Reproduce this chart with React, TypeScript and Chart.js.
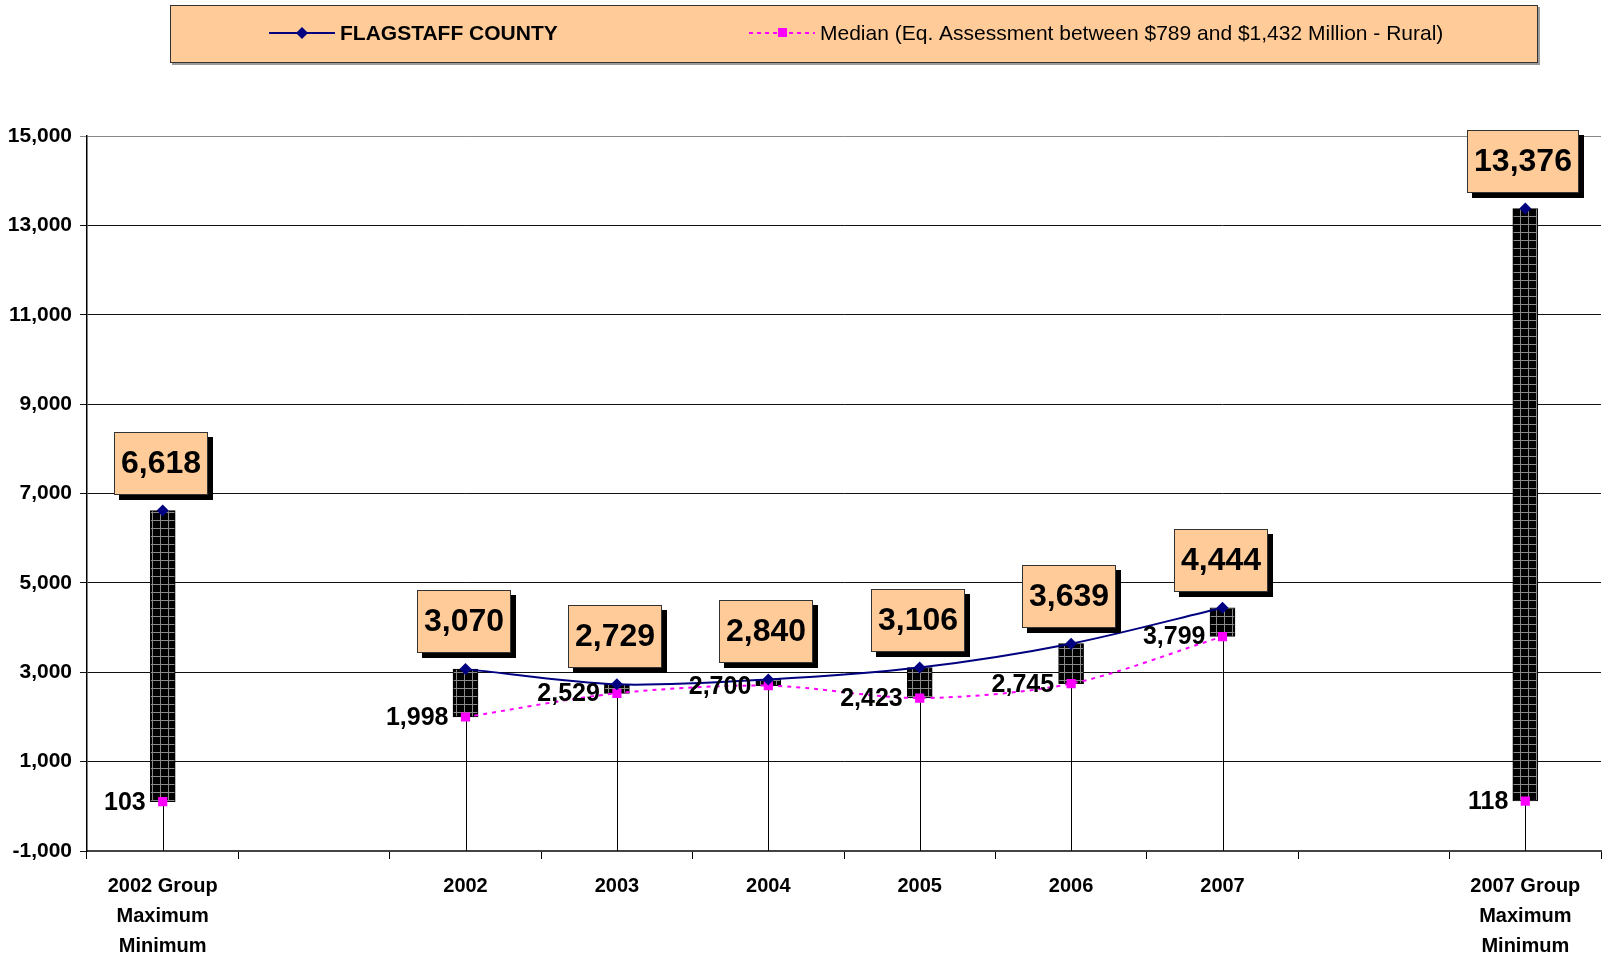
import React, { useEffect, useRef } from 'react';
import { Chart, registerables } from 'chart.js';

Chart.register(...registerables);

const categories: (string | string[])[] = [
  ['2002 Group', 'Maximum', 'Minimum'],
  '',
  '2002',
  '2003',
  '2004',
  '2005',
  '2006',
  '2007',
  '',
  ['2007 Group', 'Maximum', 'Minimum'],
];
const flagstaff: (number | null)[] = [6618, null, 3070, 2729, 2840, 3106, 3639, 4444, null, 13376];
const median: (number | null)[] = [103, null, 1998, 2529, 2700, 2423, 2745, 3799, null, 118];
const yMin = -1000;
const yMax = 15000;
const yStep = 2000;
const legendLabels = ['FLAGSTAFF COUNTY', 'Median (Eq. Assessment between $789 and $1,432 Million - Rural)'];

const FONT = '"Liberation Sans", Arial, sans-serif';
const fmt = (v: number) => v.toLocaleString('en-US');

function makePattern(): CanvasPattern | string {
  const c = document.createElement('canvas');
  c.width = 8;
  c.height = 8;
  const g = c.getContext('2d');
  if (!g) return '#222';
  g.fillStyle = '#000';
  g.fillRect(0, 0, 8, 8);
  g.fillStyle = '#8a8a8a';
  g.fillRect(0, 0, 8, 1);
  g.fillRect(0, 0, 1, 8);
  const p = g.createPattern(c, 'repeat');
  return p || '#222';
}

const dropLinesPlugin = {
  id: 'dropLines',
  beforeDatasetsDraw(chart: any) {
    const { ctx, chartArea } = chart;
    const xs = chart.scales.x;
    const ys = chart.scales.y;
    ctx.save();
    ctx.strokeStyle = '#000';
    ctx.lineWidth = 1;
    median.forEach((v, i) => {
      if (v == null) return;
      const x = Math.round(xs.getPixelForValue(i)) + 0.5;
      const y = ys.getPixelForValue(v);
      ctx.beginPath();
      ctx.moveTo(x, y);
      ctx.lineTo(x, chartArea.bottom);
      ctx.stroke();
    });
    ctx.restore();
  },
};

const labelsPlugin = {
  id: 'valueLabels',
  afterDatasetsDraw(chart: any) {
    const { ctx } = chart;
    const xs = chart.scales.x;
    const ys = chart.scales.y;
    ctx.save();
    flagstaff.forEach((v, i) => {
      if (v == null) return;
      const x = xs.getPixelForValue(i);
      const y = ys.getPixelForValue(v);
      const txt = fmt(v);
      ctx.font = `bold 32px ${FONT}`;
      const tw = ctx.measureText(txt).width;
      const w = Math.round(tw + 14);
      const h = 63;
      const bx = Math.round(x - 2 - w / 2);
      const by = Math.round(y - 16 - h);
      ctx.fillStyle = '#000';
      ctx.fillRect(bx + 5, by + 5, w, h);
      ctx.fillStyle = '#FFCC99';
      ctx.fillRect(bx, by, w, h);
      ctx.strokeStyle = '#333';
      ctx.lineWidth = 1;
      ctx.strokeRect(bx + 0.5, by + 0.5, w - 1, h - 1);
      ctx.fillStyle = '#000';
      ctx.textAlign = 'center';
      ctx.textBaseline = 'middle';
      ctx.fillText(txt, bx + w / 2, by + h / 2 + 1);
    });
    median.forEach((v, i) => {
      if (v == null) return;
      const x = xs.getPixelForValue(i);
      const y = ys.getPixelForValue(v);
      ctx.font = `bold 25px ${FONT}`;
      ctx.fillStyle = '#000';
      ctx.textAlign = 'right';
      ctx.textBaseline = 'middle';
      ctx.fillText(fmt(v), x - 17, y + 1);
    });
    ctx.restore();
  },
};

const legendPlugin = {
  id: 'boxLegend',
  afterDraw(chart: any) {
    const { ctx } = chart;
    ctx.save();
    const bx = 170, by = 5, bw = 1368, bh = 58;
    ctx.fillStyle = '#9a9a9a';
    ctx.fillRect(bx + 2, by + 2, bw, bh);
    ctx.fillStyle = '#FFCC99';
    ctx.fillRect(bx, by, bw, bh);
    ctx.strokeStyle = '#333';
    ctx.lineWidth = 1;
    ctx.strokeRect(bx + 0.5, by + 0.5, bw - 1, bh - 1);
    const cy = 33;
    ctx.strokeStyle = '#000080';
    ctx.lineWidth = 2;
    ctx.beginPath();
    ctx.moveTo(269, cy);
    ctx.lineTo(335, cy);
    ctx.stroke();
    ctx.fillStyle = '#000080';
    ctx.beginPath();
    ctx.moveTo(302, cy - 6);
    ctx.lineTo(308, cy);
    ctx.lineTo(302, cy + 6);
    ctx.lineTo(296, cy);
    ctx.closePath();
    ctx.fill();
    ctx.fillStyle = '#000';
    ctx.textAlign = 'left';
    ctx.textBaseline = 'middle';
    ctx.font = `bold 21px ${FONT}`;
    ctx.fillText(legendLabels[0], 340, cy + 1);
    ctx.strokeStyle = '#FF00FF';
    ctx.lineWidth = 2;
    ctx.setLineDash([4, 4]);
    ctx.beginPath();
    ctx.moveTo(749, cy);
    ctx.lineTo(815, cy);
    ctx.stroke();
    ctx.setLineDash([]);
    ctx.fillStyle = '#FF00FF';
    ctx.fillRect(778, cy - 5, 9, 9);
    ctx.fillStyle = '#000';
    ctx.font = `21px ${FONT}`;
    ctx.fillText(legendLabels[1], 820, cy + 1);
    ctx.restore();
  },
};

export default function App() {
  const ref = useRef<HTMLCanvasElement | null>(null);
  useEffect(() => {
    if (!ref.current) return;
    const pattern = makePattern();
    const bars = flagstaff.map((v, i) => {
      const m = median[i];
      return v == null || m == null ? null : [m, v];
    });
    const chart = new Chart(ref.current, {
      type: 'bar',
      data: {
        labels: categories as any,
        datasets: [
          {
            type: 'line',
            label: legendLabels[0],
            data: flagstaff as any,
            borderColor: '#000080',
            backgroundColor: '#000080',
            borderWidth: 2,
            tension: 0.3,
            spanGaps: false,
            pointStyle: 'rectRot',
            pointRadius: 6,
            pointBorderWidth: 0,
            pointBackgroundColor: '#000080',
            order: 1,
          } as any,
          {
            type: 'line',
            label: legendLabels[1],
            data: median as any,
            borderColor: '#FF00FF',
            backgroundColor: '#FF00FF',
            borderWidth: 2,
            borderDash: [4, 5],
            tension: 0.3,
            spanGaps: false,
            pointStyle: 'rect',
            pointRadius: 6.5,
            pointBorderWidth: 0,
            pointBackgroundColor: '#FF00FF',
            order: 2,
          } as any,
          {
            type: 'bar',
            label: 'Range',
            data: bars as any,
            backgroundColor: pattern as any,
            borderColor: '#000',
            borderWidth: 1,
            borderSkipped: false,
            barThickness: 25,
            grouped: false,
            order: 3,
          } as any,
        ],
      },
      options: {
        responsive: false,
        animation: false,
        layout: { autoPadding: false, padding: { top: 136, right: 2, left: 0, bottom: 0 } },
        plugins: {
          legend: { display: false },
          tooltip: { enabled: false },
        },
        scales: {
          x: {
            type: 'category',
            offset: true,
            grid: {
              offset: true,
              drawOnChartArea: false,
              drawTicks: true,
              tickLength: 8,
              color: '#000',
              lineWidth: 1,
            },
            border: { color: '#444', width: 2 },
            ticks: {
              color: '#000',
              padding: 12,
              maxRotation: 0,
              autoSkip: false,
              font: { family: FONT, size: 20, weight: 'bold', lineHeight: 1.5 },
            },
            afterFit(scale: any) {
              scale.height = 107;
            },
          },
          y: {
            min: yMin,
            max: yMax,
            grid: {
              color: (c: any) => (c.tick && c.tick.value === yMax ? '#888' : '#111'),
              lineWidth: 1,
              drawTicks: true,
              tickLength: 7,
            },
            border: { color: '#000', width: 1.5 },
            ticks: {
              stepSize: yStep,
              color: '#000',
              padding: 8,
              font: { family: FONT, size: 21, weight: 'bold' },
              callback: (v: any) => fmt(Number(v)),
            },
            afterFit(scale: any) {
              scale.width = 87;
            },
          },
        },
      } as any,
      plugins: [dropLinesPlugin, labelsPlugin, legendPlugin],
    });
    return () => chart.destroy();
  }, []);
  return (
    <div style={{ position: 'fixed', left: 0, top: 0, width: 1603, height: 958, background: '#fff' }}>
      <canvas ref={ref} width={1603} height={958} style={{ display: 'block' }} />
    </div>
  );
}
